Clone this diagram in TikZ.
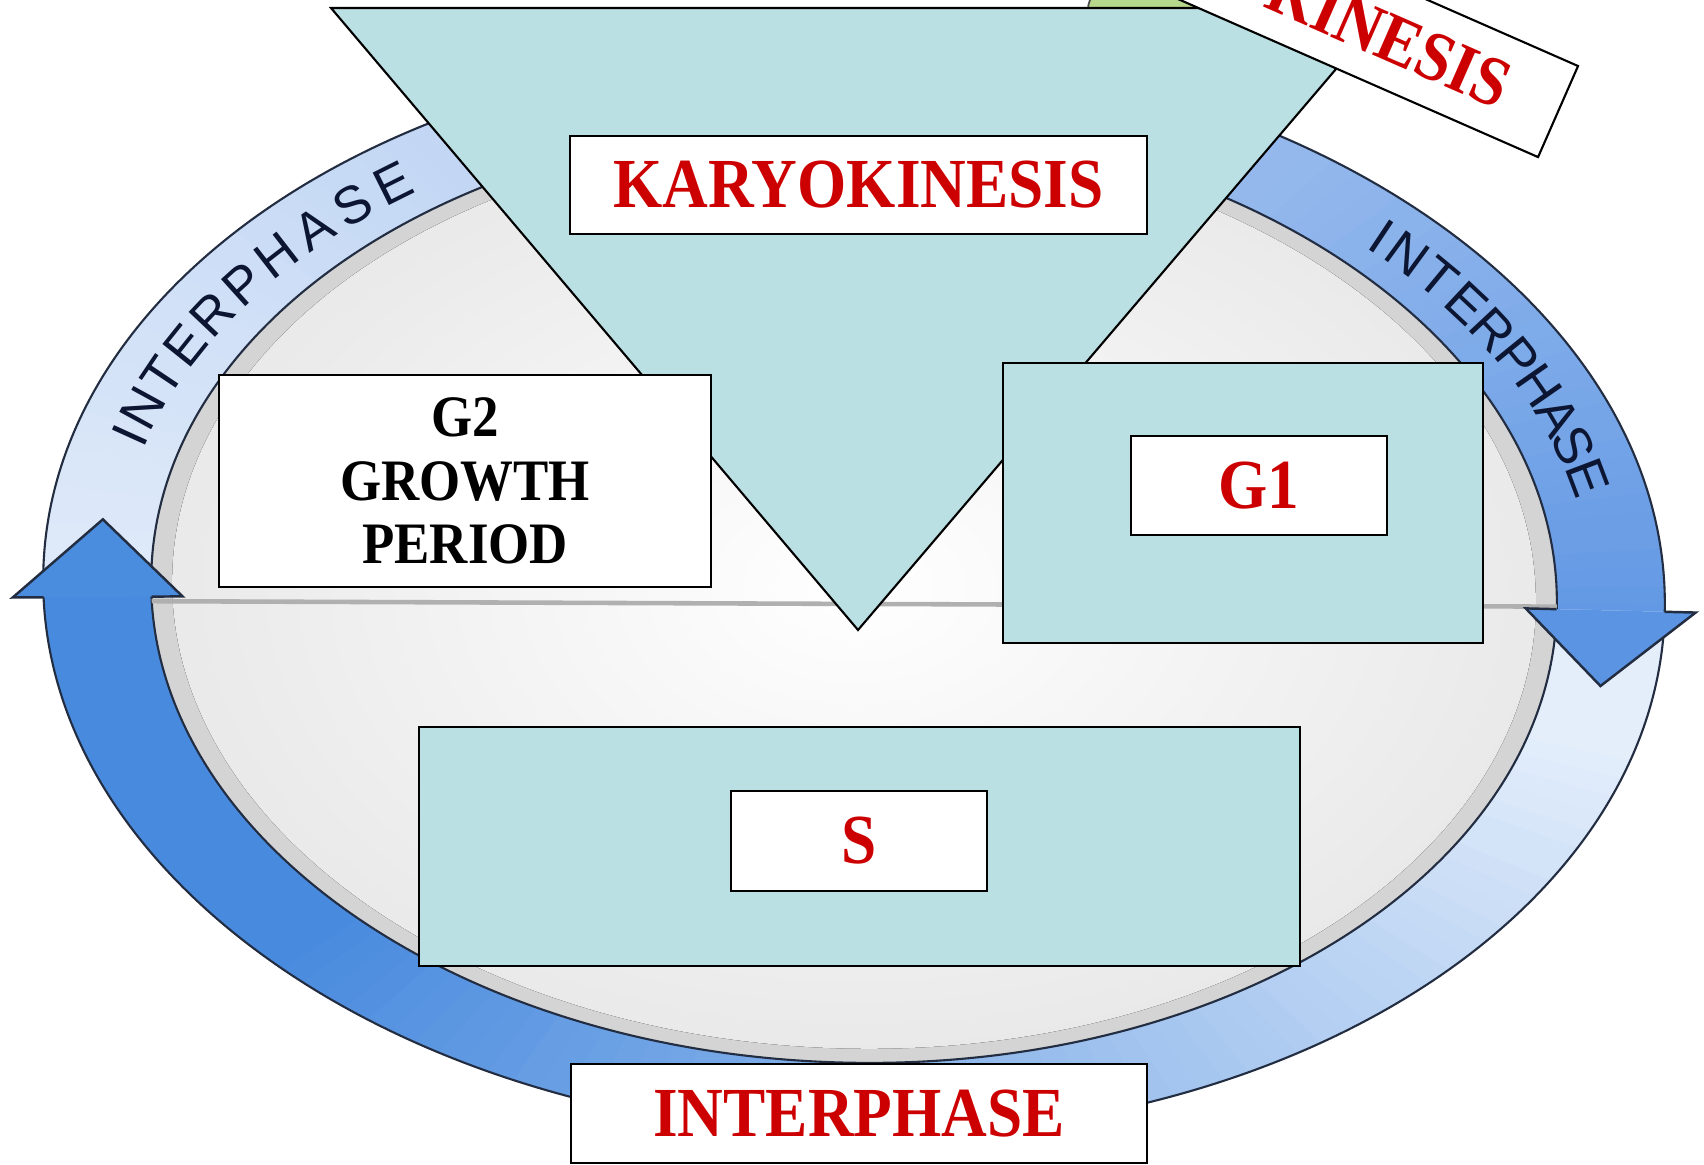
\documentclass[tikz,border=0pt]{standalone}
\usepackage{fontspec}
\setmainfont{Liberation Serif}
\newfontfamily\tnr[FakeStretch=0.9]{Liberation Serif}
\newfontfamily\arcfont{Liberation Sans}
\definecolor{tealfill}{RGB}{186,224,227}
\definecolor{redtxt}{RGB}{204,0,0}
\definecolor{ringlight}{RGB}{222,233,249}
\definecolor{ringmid}{RGB}{98,152,228}
\definecolor{ringpale}{RGB}{228,238,251}
\definecolor{ringdark}{RGB}{72,138,222}
\definecolor{headA}{RGB}{74,140,222}
\definecolor{headB}{RGB}{90,148,226}
\definecolor{rimline}{RGB}{35,45,65}
\definecolor{arctext}{RGB}{12,22,50}
\definecolor{leaf}{RGB}{183,216,140}
\begin{document}
\begin{tikzpicture}[x=0.01cm, y=0.01cm,
  boxline/.style={draw=black, line width=0.6pt},
  tealbox/.style={boxline, fill=tealfill, inner sep=0pt},
  whitebox/.style={boxline, fill=white, inner sep=0pt},
  redlabel/.style={text=redtxt, font=\tnr\bfseries\fontsize{20pt}{22pt}\selectfont},
  blacklabel/.style={text=black, font=\tnr\bfseries\fontsize{16.7pt}{18pt}\selectfont, align=center},
  arcletter/.style={text=arctext, font=\arcfont\fontsize{15pt}{17pt}\selectfont, inner sep=0pt},
  ringedge/.style={draw=rimline, line width=0.6pt},
  headedge/.style={draw=rimline, line width=0.7pt, line join=miter},
]
\useasboundingbox (0,0) rectangle (1704,-1165);
\clip (0,0) rectangle (1704,-1165);
\fill[white] (0,0) rectangle (1704,-1165);

% ---------- ring ----------
\begin{scope}[shift={(854,-592)}, rotate=-1.5]
  \fill[gray!34] (0,0) ellipse [x radius=703, y radius=470.7];
  \fill[inner color=white, outer color=gray!17] (0,0) ellipse [x radius=682, y radius=456.6];
  % upper arrow band (light -> mid)
  \foreach \i in {0,...,91}{
    \pgfmathsetmacro\tA{182.8-2*\i}
    \pgfmathsetmacro\tB{\tA-2.6}
    \pgfmathtruncatemacro\pp{100*(max(0.001,(182.8-\tA+1.3)/184))^1.3}
    \fill[ringmid!\pp!ringlight] ({811*cos(\tA)},{543*sin(\tA)}) -- ({811*cos(\tB)},{543*sin(\tB)})
      -- ({703*cos(\tB)},{470.7*sin(\tB)}) -- ({703*cos(\tA)},{470.7*sin(\tA)}) -- cycle;
  }
  % lower arrow band (pale -> dark)
  \foreach \i in {0,...,88}{
    \pgfmathsetmacro\tA{0.15-2*\i}
    \pgfmathsetmacro\tB{\tA-2.6}
    \pgfmathtruncatemacro\pp{max(0,min(100,(1.3-\tA-15)/120*100))}
    \fill[ringdark!\pp!ringpale] ({811*cos(\tA)},{543*sin(\tA)}) -- ({811*cos(\tB)},{543*sin(\tB)})
      -- ({703*cos(\tB)},{470.7*sin(\tB)}) -- ({703*cos(\tA)},{470.7*sin(\tA)}) -- cycle;
  }
  \draw[ringedge] (0,0) ellipse [x radius=811, y radius=543];
  \draw[ringedge] (0,0) ellipse [x radius=703, y radius=470.7];
\end{scope}

% horizontal rim line
\begin{scope}
  \clip[shift={(854,-592)}, rotate=-1.5] (0,0) ellipse [x radius=703, y radius=470.7];
  \draw[gray!62, line width=1.3pt] (100,-601) -- (1650,-607);
\end{scope}

\begin{scope}[shift={(854,-592)}, rotate=-1.5]
  % left arrowhead (pointing up)
  \coordinate (lbo) at ({842*cos(182.8)},{563.7*sin(182.8)});
  \coordinate (lso) at ({811*cos(182.8)},{543*sin(182.8)});
  \coordinate (lsi) at ({703*cos(182.8)},{470.7*sin(182.8)});
  \coordinate (lbi) at ({672*cos(182.8)},{449.9*sin(182.8)});
  \coordinate (ltip) at ({757*cos(174)},{506.8*sin(174)});
  \fill[headA] (lbo) -- (ltip) -- (lbi) -- cycle;
  \draw[headedge] (lso) -- (lbo) -- (ltip) -- (lbi) -- (lsi);
  % right arrowhead (pointing down)
  \coordinate (rbo) at ({842*cos(0.15)},{563.7*sin(0.15)});
  \coordinate (rso) at ({811*cos(0.15)},{543*sin(0.15)});
  \coordinate (rsi) at ({703*cos(0.15)},{470.7*sin(0.15)});
  \coordinate (rbi) at ({672*cos(0.15)},{449.9*sin(0.15)});
  \coordinate (rtip) at ({757*cos(-8.45)},{506.8*sin(-8.45)});
  \fill[headB] (rbo) -- (rtip) -- (rbi) -- cycle;
  \draw[headedge] (rso) -- (rbo) -- (rtip) -- (rbi) -- (rsi);
  % arc texts
  \foreach \t/\ch [count=\k] in {164.2/I,161.0/N,157.0/T,153.1/E,149.0/R,144.8/P,140.7/H,136.5/A,132.5/S,128.5/E}{
    \pgfmathsetmacro\angl{atan2(-0.6695*cos(\t), sin(\t))-1.5}
    \node[arcletter, rotate=\angl] (la\k) at ({757*cos(\t)},{506.8*sin(\t)}) {\ch};
  }
  \foreach \t/\ch [count=\k] in {46.8/I,44.0/N,40.5/T,37.0/E,33.4/R,29.8/P,26.2/H,22.5/A,19.0/S,15.3/E}{
    \pgfmathsetmacro\angl{atan2(-0.6695*cos(\t), sin(\t))-1.5}
    \node[arcletter, rotate=\angl] (ra\k) at ({757*cos(\t)},{506.8*sin(\t)}) {\ch};
  }
\end{scope}

% green shape behind
\draw[fill=leaf, draw=black!70, line width=0.5pt, rounded corners=6] (1088,12) rectangle (1300,-60);

% karyokinesis triangle
\draw[fill=tealfill, draw=black, line width=0.6pt, line join=miter] (331,-8) -- (1388,-8) -- (858,-630) -- cycle;

% boxes
\node[whitebox, minimum width=4.912cm, minimum height=2.12cm, blacklabel] (g2) at (465.1,-481) {G2\\GROWTH\\PERIOD};
\node[tealbox, minimum width=4.80cm, minimum height=2.80cm] (g1outer) at (1243,-503) {};
\node[whitebox, minimum width=2.56cm, minimum height=0.99cm, redlabel] (g1) at (1259,-485.5) {G1};
\node[tealbox, minimum width=8.80cm, minimum height=2.39cm] (souter) at (859.6,-846.5) {};
\node[whitebox, minimum width=2.56cm, minimum height=1.00cm, redlabel] (s) at (859,-841) {S};
\node[whitebox, minimum width=5.75cm, minimum height=0.99cm, redlabel] (inter) at (859,-1113.5) {INTERPHASE};
\node[whitebox, minimum width=5.76cm, minimum height=0.98cm, redlabel] (kary) at (858.5,-185) {KARYOKINESIS};

% rotated cytokinesis label
\node[whitebox, rotate=-23.7, anchor=east, minimum height=0.994cm, inner xsep=16pt, redlabel] (cyto) at (1559,-112) {CYTOKINESIS};
\end{tikzpicture}
\end{document}
